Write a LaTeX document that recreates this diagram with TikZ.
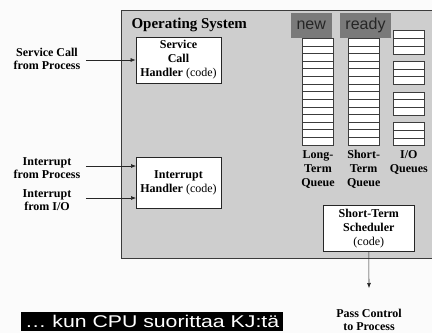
\documentclass[tikz,border=0pt]{standalone}
\usepackage{fontspec}
\setmainfont{Liberation Serif}
\newfontfamily\labelsans{Liberation Sans}
\usetikzlibrary{arrows.meta}
\definecolor{osgray}{RGB}{206,206,206}
\definecolor{tabgray}{RGB}{122,122,122}
\definecolor{edgegray}{RGB}{60,60,60}
\definecolor{paper}{RGB}{251,251,251}
\tikzset{
  bodytext/.style={font=\bfseries\fontsize{12}{14}\selectfont, align=center},
  sidetext/.style={font=\bfseries\fontsize{12}{13}\selectfont, align=center},
  handler/.style={draw=black!85, line width=0.8pt, fill=white, bodytext, inner sep=0pt},
  arr/.style={-{Latex[length=5pt,width=4pt]}, line width=0.6pt, black!85},
  tab/.style={fill=tabgray, font=\labelsans\fontsize{16}{16}\selectfont, text=black!85, inner sep=0pt},
  cell/.style={draw=edgegray, fill=white, line width=0.6pt},
  banner/.style={fill=black, text=white, font=\labelsans\fontsize{17}{18}\selectfont, inner sep=0pt}
}
\begin{document}
\begin{tikzpicture}[x=1pt,y=-1pt]
  % page
  \fill[paper] (0,0) rectangle (432,333);
  \useasboundingbox (0,0) rectangle (432,333);

  % operating system area
  \filldraw[fill=osgray, draw=edgegray, line width=1pt] (121,10) rectangle (440,258);
  \node[anchor=base west, font=\bfseries\fontsize{15}{16}\selectfont] (ostitle) at (128,28) {Operating System};

  % handlers
  \node[handler, minimum width=85pt, minimum height=46pt] (svch) at (178.5,60)
    {Service\\Call\\Handler {\mdseries (code)}};
  \node[handler, minimum width=85pt, minimum height=51pt] (inth) at (178.5,182.5)
    {Interrupt\\Handler {\mdseries (code)}};
  \node[handler, minimum width=91pt, minimum height=46.7pt] (sched) at (368.8,228.3)
    {Short-Term\\Scheduler\\{\mdseries (code)}};

  % queue headers
  \node[tab, minimum width=41pt, minimum height=24.4pt] (newtab) at (311.2,25.5) {new};
  \node[tab, minimum width=51pt, minimum height=24.4pt] (readytab) at (365.5,25.5) {ready};

  % long-term and short-term queues
  \foreach \i in {0,...,13}{
    \draw[cell] (302.7,38.3+7.62*\i) rectangle (333.3,38.3+7.62*\i+7.62);
    \draw[cell] (348.3,38.3+7.62*\i) rectangle (379.0,38.3+7.62*\i+7.62);
  }
  % I/O queues
  \foreach \g in {0,...,3}{
    \foreach \i in {0,1,2}{
      \draw[cell] (393.3,30.7+30.6*\g+7.7*\i) rectangle (424.3,30.7+30.6*\g+7.7*\i+7.7);
    }
  }

  % queue labels
  \node[bodytext] (ltq) at (318,169.5) {Long-\\Term\\Queue};
  \node[bodytext] (stq) at (363.7,169.5) {Short-\\Term\\Queue};
  \node[bodytext] (ioq) at (408.8,162.5) {I/O\\Queues};

  % outside labels
  \node[sidetext] (svclbl) at (47,58.5) {Service Call\\from Process};
  \node[sidetext] (intplbl) at (47,168.5) {Interrupt\\from Process};
  \node[sidetext] (intiolbl) at (47,200) {Interrupt\\from I/O};
  \node[sidetext] (passlbl) at (369,320) {Pass Control\\to Process};
  \coordinate (passtip) at (369,288);
  \coordinate (intpin) at (136,166);
  \coordinate (intioin) at (136,198);

  % connectors
  \draw[arr] (svclbl.east |- svch.west) ++(2pt,0) -- (svch.west);
  \draw[arr] (svclbl.east |- intpin) ++(2pt,0) -- (intpin);
  \draw[arr] (svclbl.east |- intioin) ++(2pt,0) -- (intioin);
  \draw[arr] (sched.south) -- (passtip);

  % caption bar
  \node[banner, minimum width=262pt, minimum height=19pt, anchor=west] (cap) at (21,321.5)
    {\scalebox{1.25}[1]{\ldots\ kun CPU suorittaa KJ:tä}};
\end{tikzpicture}
\end{document}
